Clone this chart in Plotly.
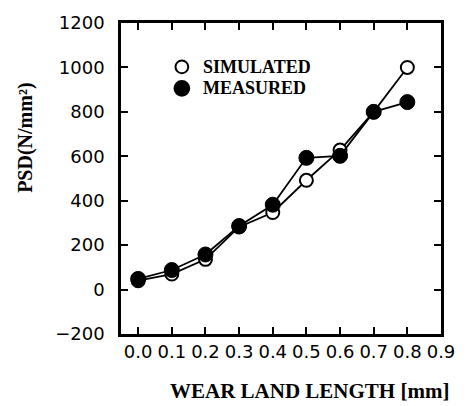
import plotly.graph_objects as go

# Wear land length (mm) and pressure values (N/mm^2)
wear_land = [0.0, 0.1, 0.2, 0.3, 0.4, 0.5, 0.6, 0.7, 0.8]
simulated = [40, 70, 136, 282, 347, 492, 628, 800, 1000]
measured = [48, 88, 158, 286, 382, 593, 602, 800, 844]

x_ticks = [0.0, 0.1, 0.2, 0.3, 0.4, 0.5, 0.6, 0.7, 0.8, 0.9]
y_ticks = [-200, 0, 200, 400, 600, 800, 1000, 1200]

series_names = ["SIMULATED", "MEASURED"]

W, H = 467, 406
L, R, T, B = 121, 20, 15, 72
pw, ph = W - L - R, H - T - B

def px(xp):
    return (xp - L) / pw

def py(yp):
    return (H - B - yp) / ph

serif = "Liberation Serif, Times New Roman, serif"
sans = "DejaVu Sans, Arial, sans-serif"

fig = go.Figure()

fig.add_trace(go.Scatter(
    x=wear_land, y=simulated, mode="lines+markers", name=series_names[0],
    showlegend=False,
    line=dict(color="black", width=1.8),
    marker=dict(symbol="circle", size=13, color="white",
                line=dict(color="black", width=2)),
))
fig.add_trace(go.Scatter(
    x=wear_land, y=measured, mode="lines+markers", name=series_names[1],
    showlegend=False,
    line=dict(color="black", width=1.8),
    marker=dict(symbol="circle", size=15, color="black",
                line=dict(color="black", width=1)),
))

axis_common = dict(
    showline=True, linecolor="black", linewidth=2.5, mirror="ticks",
    ticks="inside", ticklen=7, tickwidth=1.8, tickcolor="black",
    showgrid=False, zeroline=False,
    tickfont=dict(family=sans, size=18, color="black"),
)

fig.update_xaxes(
    range=[-0.051, 0.9], tickvals=x_ticks,
    ticktext=[f"{v:.1f}" for v in x_ticks],
    ticklabelstandoff=0, **axis_common,
)
fig.update_yaxes(
    range=[-200, 1200], tickvals=y_ticks,
    ticktext=[("\u2212" + str(-v)) if v < 0 else str(v) for v in y_ticks],
    ticklabelstandoff=10, **axis_common,
)

fig.add_annotation(
    text="<b>WEAR LAND LENGTH [mm]</b>", xref="paper", yref="paper",
    x=px(313), y=py(392), xanchor="center", yanchor="middle",
    showarrow=False, font=dict(family=serif, size=21, color="black"),
)
fig.add_annotation(
    text="<b>PSD(N/mm\u00b2)</b>", xref="paper", yref="paper",
    x=px(23), y=py(133), xanchor="center", yanchor="middle",
    textangle=-90, showarrow=False,
    font=dict(family=serif, size=20, color="black"),
)

# legend key: symbol plus label for each series
legend_rows = [
    (series_names[0], 60, 6.5, "white"),
    (series_names[1], 82, 7.5, "black"),
]
for label, row_y, rad, fill in legend_rows:
    fig.add_shape(
        type="circle", xref="paper", yref="paper",
        x0=px(183 - rad), x1=px(183 + rad),
        y0=py(row_y + rad), y1=py(row_y - rad),
        fillcolor=fill, line=dict(color="black", width=2),
    )
    fig.add_annotation(
        text=f"<b>{label}</b>", xref="paper", yref="paper",
        x=px(203), y=py(row_y), xanchor="left", yanchor="middle",
        showarrow=False, font=dict(family=serif, size=18, color="black"),
    )

fig.update_layout(
    width=W, height=H,
    margin=dict(l=L, r=R, t=T, b=B),
    paper_bgcolor="white", plot_bgcolor="white",
    showlegend=False,
)

fig.write_html("out.html")
